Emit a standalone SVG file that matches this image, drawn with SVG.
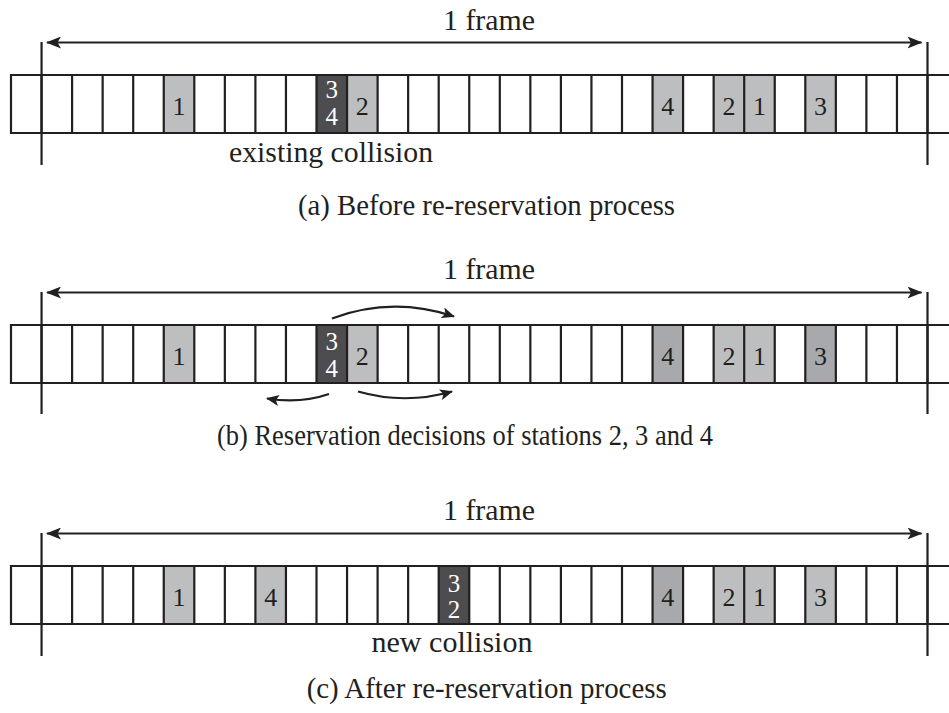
<svg xmlns="http://www.w3.org/2000/svg" xmlns:xlink="http://www.w3.org/1999/xlink" width="949" height="713" viewBox="0 0 949 713">
<style>
.ln{stroke:#231f20;stroke-width:2.2;fill:none}
.lt{fill:#bcbec0}
.md{fill:#a7a9ac}
.dk{fill:#4d4d4f}
text{font-family:'Liberation Serif','Times New Roman',serif;fill:#231f20}
.cap{font-size:30px;text-anchor:middle}
.dg{font-size:26px;text-anchor:middle}
.dw{font-size:25px;text-anchor:middle;fill:#ffffff}
</style>
<defs>
<marker id="ah" markerUnits="userSpaceOnUse" markerWidth="15" markerHeight="12" viewBox="0 0 15 12" refX="14" refY="6" orient="auto-start-reverse">
<path d="M0,0 L15,6 L0,12 L3.5,6 Z" fill="#231f20"/>
</marker>
<marker id="sh" markerUnits="userSpaceOnUse" markerWidth="13" markerHeight="11" viewBox="0 0 13 11" refX="12" refY="5.5" orient="auto">
<path d="M0,0 L13,5.5 L0,11 L3,5.5 Z" fill="#231f20"/>
</marker>
<g id="slots">
<path class="ln" d="M11,0 H960 M11,58 H960 M11,-1 v60 m30.55,-60 v60 m30.55,-60 v60 m30.55,-60 v60 m30.55,-60 v60 m30.55,-60 v60 m30.55,-60 v60 m30.55,-60 v60 m30.55,-60 v60 m30.55,-60 v60 m30.55,-60 v60 m30.55,-60 v60 m30.55,-60 v60 m30.55,-60 v60 m30.55,-60 v60 m30.55,-60 v60 m30.55,-60 v60 m30.55,-60 v60 m30.55,-60 v60 m30.55,-60 v60 m30.55,-60 v60 m30.55,-60 v60 m30.55,-60 v60 m30.55,-60 v60 m30.55,-60 v60 m30.55,-60 v60 m30.55,-60 v60 m30.55,-60 v60 m30.55,-60 v60 m30.55,-60 v60 m30.55,-60 v60"/>
</g>
</defs>
<rect width="949" height="713" fill="#ffffff"/>

<!-- Row (a) -->
<g id="row-a">
<rect class="lt" x="163.75" y="75" width="30.55" height="58"/>
<rect class="dk" x="316.5" y="75" width="30.55" height="58"/>
<rect class="lt" x="347.05" y="75" width="30.55" height="58"/>
<rect class="lt" x="652.55" y="75" width="30.55" height="58"/>
<rect class="lt" x="713.65" y="75" width="61.1" height="58"/>
<rect class="lt" x="805.3" y="75" width="30.55" height="58"/>
<use xlink:href="#slots" href="#slots" transform="translate(0,75)"/>
<text class="dg" x="179" y="115">1</text>
<text class="dw" x="331.8" y="98">3</text>
<text class="dw" x="331.8" y="125">4</text>
<text class="dg" x="362.3" y="115">2</text>
<text class="dg" x="667.8" y="115">4</text>
<text class="dg" x="728.9" y="115">2</text>
<text class="dg" x="759.5" y="115">1</text>
<text class="dg" x="820.6" y="115">3</text>
<path class="ln" d="M41.55,42 V165 M927.5,42 V165"/>
<line class="ln" x1="47" y1="42.5" x2="921.5" y2="42.5" marker-start="url(#ah)" marker-end="url(#ah)"/>
<text class="cap" x="489" y="30" textLength="92" lengthAdjust="spacingAndGlyphs">1 frame</text>
<text class="cap" x="331" y="162" textLength="204" lengthAdjust="spacingAndGlyphs">existing collision</text>
<text class="cap" x="486.5" y="215" textLength="377" lengthAdjust="spacingAndGlyphs">(a) Before re-reservation process</text>
</g>

<!-- Row (b) -->
<g id="row-b">
<rect class="lt" x="163.75" y="325" width="30.55" height="58"/>
<rect class="dk" x="316.5" y="325" width="30.55" height="58"/>
<rect class="lt" x="347.05" y="325" width="30.55" height="58"/>
<rect class="md" x="652.55" y="325" width="30.55" height="58"/>
<rect class="lt" x="713.65" y="325" width="61.1" height="58"/>
<rect class="md" x="805.3" y="325" width="30.55" height="58"/>
<use xlink:href="#slots" href="#slots" transform="translate(0,325)"/>
<text class="dg" x="179" y="365">1</text>
<text class="dw" x="331.8" y="350">3</text>
<text class="dw" x="331.8" y="377">4</text>
<text class="dg" x="362.3" y="365">2</text>
<text class="dg" x="667.8" y="365">4</text>
<text class="dg" x="728.9" y="365">2</text>
<text class="dg" x="759.5" y="365">1</text>
<text class="dg" x="820.6" y="365">3</text>
<path class="ln" d="M41.55,292 V414 M927.5,292 V414"/>
<line class="ln" x1="47" y1="292.5" x2="921.5" y2="292.5" marker-start="url(#ah)" marker-end="url(#ah)"/>
<text class="cap" x="489" y="279" textLength="92" lengthAdjust="spacingAndGlyphs">1 frame</text>
<text class="cap" x="465" y="445" textLength="496" lengthAdjust="spacingAndGlyphs">(b) Reservation decisions of stations 2, 3 and 4</text>
</g>

<!-- Row (c) -->
<g id="row-c">
<rect class="lt" x="163.75" y="566" width="30.55" height="58"/>
<rect class="lt" x="255.4" y="566" width="30.55" height="58"/>
<rect class="dk" x="438.7" y="566" width="30.55" height="58"/>
<rect class="md" x="652.55" y="566" width="30.55" height="58"/>
<rect class="lt" x="713.65" y="566" width="61.1" height="58"/>
<rect class="lt" x="805.3" y="566" width="30.55" height="58"/>
<use xlink:href="#slots" href="#slots" transform="translate(0,566)"/>
<text class="dg" x="179" y="606">1</text>
<text class="dg" x="270.7" y="606">4</text>
<text class="dw" x="454" y="592">3</text>
<text class="dw" x="454" y="618">2</text>
<text class="dg" x="667.8" y="606">4</text>
<text class="dg" x="728.9" y="606">2</text>
<text class="dg" x="759.5" y="606">1</text>
<text class="dg" x="820.6" y="606">3</text>
<path class="ln" d="M41.55,533 V656 M927.5,533 V656"/>
<line class="ln" x1="47" y1="533.5" x2="921.5" y2="533.5" marker-start="url(#ah)" marker-end="url(#ah)"/>
<text class="cap" x="489" y="520" textLength="92" lengthAdjust="spacingAndGlyphs">1 frame</text>
<text class="cap" x="452" y="652" textLength="161" lengthAdjust="spacingAndGlyphs">new collision</text>
<text class="cap" x="486.7" y="698" textLength="360" lengthAdjust="spacingAndGlyphs">(c) After re-reservation process</text>
</g>

<!-- Connectors: reservation decisions -->
<g id="connectors">
<path class="ln" d="M332,318.5 Q392,296 454,316.5" marker-end="url(#sh)"/>
<path class="ln" d="M329,394 Q300,404 267,398.5" marker-end="url(#sh)"/>
<path class="ln" d="M358,391.5 Q405,405 452,391.5" marker-end="url(#sh)"/>
</g>
</svg>
